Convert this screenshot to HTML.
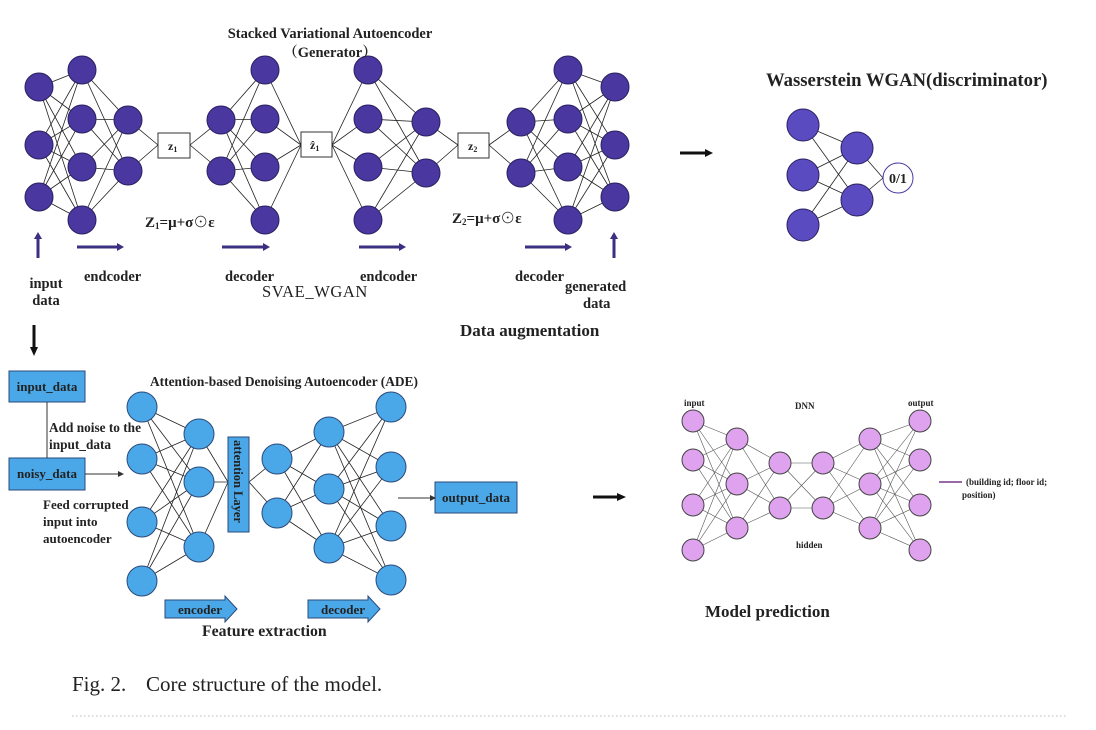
<!DOCTYPE html>
<html><head><meta charset="utf-8"><style>
html,body{margin:0;padding:0;background:#fff;}
svg{display:block;}
text{font-family:"Liberation Serif","Noto Serif CJK SC",serif;font-weight:bold;fill:#222;}
</style></head><body>
<svg id="s" width="1096" height="730" viewBox="0 0 1096 730" xmlns="http://www.w3.org/2000/svg">
<g id="lines" stroke="#222" stroke-width="0.8" fill="none"></g>
<g id="nodes"></g>
<rect x="158" y="133" width="32" height="25" fill="#fff" stroke="#333"/>
<text x="168" y="150" font-size="12">z<tspan font-size="8" dy="2">1</tspan></text>
<rect x="301" y="132" width="31" height="25" fill="#fff" stroke="#333"/>
<text x="310" y="149" font-size="12">ẑ<tspan font-size="8" dy="2">1</tspan></text>
<rect x="458" y="133" width="31" height="25" fill="#fff" stroke="#333"/>
<text x="468" y="150" font-size="12">z<tspan font-size="8" dy="2">2</tspan></text>
<text x="330" y="38" font-size="14.5" text-anchor="middle">Stacked Variational Autoencoder</text>
<text x="330" y="57" font-size="14.5" text-anchor="middle">（Generator）</text>
<g stroke="#3a2f80" stroke-width="3">
<line x1="38" y1="258" x2="38" y2="238"/><line x1="77" y1="247" x2="118" y2="247"/>
<line x1="222" y1="247" x2="264" y2="247"/><line x1="359" y1="247" x2="400" y2="247"/>
<line x1="525" y1="247" x2="566" y2="247"/><line x1="614" y1="258" x2="614" y2="238"/>
</g>
<g fill="#3a2f80">
<polygon points="34,239 42,239 38,232"/><polygon points="117,243 117,251 124,247"/>
<polygon points="263,243 263,251 270,247"/><polygon points="399,243 399,251 406,247"/>
<polygon points="565,243 565,251 572,247"/><polygon points="610,239 618,239 614,232"/>
</g>
<text x="145" y="227" font-size="15">Z<tspan font-size="9" dy="2">1</tspan><tspan dy="-2">=μ+σ⊙ε</tspan></text>
<text x="452" y="223" font-size="15">Z<tspan font-size="9" dy="2">2</tspan><tspan dy="-2">=μ+σ⊙ε</tspan></text>
<text x="46" y="288" font-size="14.5" text-anchor="middle">input</text>
<text x="46" y="305" font-size="14.5" text-anchor="middle">data</text>
<text x="84" y="281" font-size="14.5">endcoder</text>
<text x="225" y="281" font-size="14.5">decoder</text>
<text x="262" y="297" font-size="16.5" style="font-weight:normal" letter-spacing="0.6">SVAE_WGAN</text>
<text x="360" y="281" font-size="14.5">endcoder</text>
<text x="515" y="281" font-size="14.5">decoder</text>
<text x="565" y="291" font-size="14.5">generated</text>
<text x="583" y="308" font-size="14.5">data</text>
<text x="460" y="336" font-size="17">Data augmentation</text>
<text x="766" y="86" font-size="18.7">Wasserstein WGAN(discriminator)</text>
<line x1="680" y1="153" x2="706" y2="153" stroke="#111" stroke-width="3"/>
<polygon points="705,149 705,157 713,153" fill="#111"/>
<circle cx="898" cy="178" r="15" fill="#fff" stroke="#4a3aa0"/>
<text x="898" y="183" font-size="14" text-anchor="middle">0/1</text>
<line x1="34" y1="325" x2="34" y2="348" stroke="#111" stroke-width="3"/>
<polygon points="30,347 38,347 34,356" fill="#111"/>
<g fill="#4aa8e8" stroke="#2a4a7a">
<rect x="9" y="371" width="76" height="31"/><rect x="9" y="458" width="76" height="32"/>
<rect x="228" y="437" width="21" height="95"/><rect x="435" y="482" width="82" height="31"/>
<polygon points="165,600 225,600 225,596 237,609 225,622 225,618 165,618"/>
<polygon points="308,600 368,600 368,596 380,609 368,622 368,618 308,618"/>
</g>
<line x1="47" y1="402" x2="47" y2="458" stroke="#333"/>
<line x1="85" y1="474" x2="120" y2="474" stroke="#333"/><polygon points="118,471 118,477 124,474" fill="#333"/>
<line x1="398" y1="498" x2="432" y2="498" stroke="#333"/><polygon points="430,495 430,501 436,498" fill="#333"/>
<text x="47" y="391" font-size="13" text-anchor="middle">input_data</text>
<text x="47" y="478" font-size="13" text-anchor="middle">noisy_data</text>
<text x="476" y="502" font-size="13" text-anchor="middle">output_data</text>
<text x="49" y="432" font-size="13.3">Add noise to the</text>
<text x="49" y="449" font-size="13.3">input_data</text>
<text x="43" y="509" font-size="13">Feed corrupted</text>
<text x="43" y="526" font-size="13">input into</text>
<text x="43" y="543" font-size="13">autoencoder</text>
<text x="150" y="386" font-size="13.4">Attention-based Denoising Autoencoder (ADE)</text>
<text transform="translate(234,440) rotate(90)" font-size="12.5">attention Layer</text>
<text x="200" y="614" font-size="13" text-anchor="middle">encoder</text>
<text x="343" y="614" font-size="13" text-anchor="middle">decoder</text>
<text x="202" y="636" font-size="15.8">Feature extraction</text>
<line x1="593" y1="497" x2="618" y2="497" stroke="#111" stroke-width="3"/>
<polygon points="617,493 617,501 626,497" fill="#111"/>
<text x="684" y="406" font-size="9">input</text>
<text x="795" y="409" font-size="9">DNN</text>
<text x="908" y="406" font-size="9">output</text>
<text x="796" y="548" font-size="9">hidden</text>
<line x1="939" y1="482" x2="962" y2="482" stroke="#9a6aa8" stroke-width="2"/>
<text x="966" y="485" font-size="9">(building id; floor id;</text>
<text x="962" y="498" font-size="9">position)</text>
<text x="705" y="617" font-size="17">Model prediction</text>
<text x="72" y="691" font-size="21" style="font-weight:normal">Fig. 2.</text>
<text x="146" y="691" font-size="21" style="font-weight:normal">Core structure of the model.</text>
<line x1="72" y1="716" x2="1068" y2="716" stroke="#bbb" stroke-dasharray="1.5,2.5"/>
</svg>
<script>
var NS="http://www.w3.org/2000/svg",L=document.getElementById("lines"),N=document.getElementById("nodes");
function ln(a,b,c,d,col,w){var e=document.createElementNS(NS,"line");e.setAttribute("x1",a);e.setAttribute("y1",b);e.setAttribute("x2",c);e.setAttribute("y2",d);if(col)e.setAttribute("stroke",col);if(w)e.setAttribute("stroke-width",w);L.appendChild(e);}
function nodes(x,ys,r,fill,st){ys.forEach(function(y){var c=document.createElementNS(NS,"circle");c.setAttribute("cx",x);c.setAttribute("cy",y);c.setAttribute("r",r);c.setAttribute("fill",fill);c.setAttribute("stroke",st);N.appendChild(c);});}
function full(x1,y1s,x2,y2s,col,w){y1s.forEach(function(a){y2s.forEach(function(b){ln(x1,a,x2,b,col,w);});});}
var P="#4a38a0",S="#2a2060",r=14;
var A=[87,145,197],B=[70,119,167,220],C=[120,171],H=[122,173];
var layers=[[39,A],[82,B],[128,C],['z',158,190,145],[221,C],[265,B],['z',301,332,145],[368,B],[426,H],['z',458,489,145],[521,H],[568,B],[615,A]];
for(var i=0;i<layers.length-1;i++){var a=layers[i],b=layers[i+1];
 if(a[0]==='z'){b[1].forEach(function(y){ln(a[2],a[3],b[0],y);});}
 else if(b[0]==='z'){a[1].forEach(function(y){ln(a[0],y,b[1],b[3]);});}
 else full(a[0],a[1],b[0],b[1]);}
layers.forEach(function(l){if(l[0]!=='z')nodes(l[0],l[1],r,P,S);});
full(803,[125,175,225],857,[148,200]);
[148,200].forEach(function(y){ln(857,y,883,178);});
nodes(803,[125,175,225],16,"#5a4cc0",S);nodes(857,[148,200],16,"#5a4cc0",S);
var E1=[407,459,522,581],E2=[434,482,547],E3=[459,513],E4=[432,489,548],E5=[407,467,526,580];
full(142,E1,199,E2);E2.forEach(function(y){ln(199,y,228,482);});E3.forEach(function(y){ln(249,482,277,y);});
full(277,E3,329,E4);full(329,E4,391,E5);
var B1="#4aa8e8",BS="#2a4a7a";
nodes(142,E1,15,B1,BS);nodes(199,E2,15,B1,BS);nodes(277,E3,15,B1,BS);nodes(329,E4,15,B1,BS);nodes(391,E5,15,B1,BS);
var D=[[693,[421,460,505,550]],[737,[439,484,528]],[780,[463,508]],[823,[463,508]],[870,[439,484,528]],[920,[421,460,505,550]]];
for(var j=0;j<D.length-1;j++)full(D[j][0],D[j][1],D[j+1][0],D[j+1][1],"#555",0.6);
D.forEach(function(l){nodes(l[0],l[1],11,"#dfa2ee","#444");});
</script>
</body></html>
